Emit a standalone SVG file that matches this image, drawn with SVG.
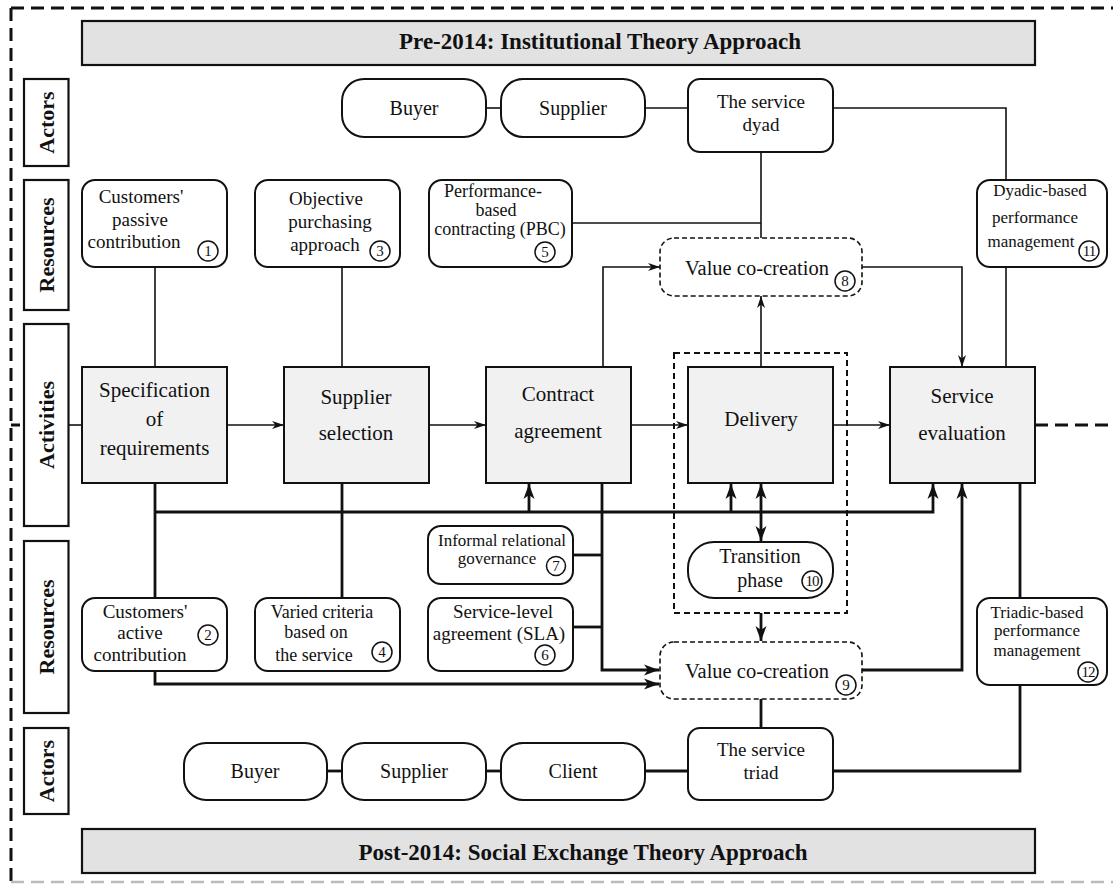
<svg xmlns="http://www.w3.org/2000/svg" width="1113" height="885" viewBox="0 0 1113 885">
<style>
text{font-family:"Liberation Serif","Times New Roman",serif;fill:#111}
.hdr{fill:#e2e2e2;stroke:#111;stroke-width:2.2}
.hdrt{font-size:23px;font-weight:bold}
.side{fill:#fff;stroke:#111;stroke-width:2.2}
.sidet{font-size:22px;font-weight:bold}
.act{fill:#f1f1f1;stroke:#111;stroke-width:2}
.actt{font-size:21px;text-anchor:middle}
.res{fill:#fff;stroke:#111;stroke-width:2}
.rest{font-size:19px;text-anchor:middle}
.rest18{font-size:18px;text-anchor:middle}
.rest2{font-size:17px;text-anchor:middle}
.actor{fill:#fff;stroke:#111;stroke-width:2}
.actort{font-size:20px;text-anchor:middle}
.vcc{fill:#fff;stroke:#111;stroke-width:1.6;stroke-dasharray:5 3}
.vcct{font-size:20.5px;text-anchor:middle}
.num{fill:none;stroke:#111;stroke-width:1.5}
.numt{font-size:15px;text-anchor:middle}
.thin{fill:none;stroke:#111;stroke-width:1.6}
.thick{fill:none;stroke:#111;stroke-width:2.8}
.border{fill:none;stroke:#111;stroke-width:3;stroke-dasharray:13 7}
</style>
<defs>
<marker id="ah" markerUnits="userSpaceOnUse" markerWidth="13" markerHeight="9" refX="12" refY="4.5" orient="auto">
<path d="M0,0.5 L12,4.5 L0,8.5 L3.5,4.5 z" fill="#111"/>
</marker>
<marker id="ahb" markerUnits="userSpaceOnUse" markerWidth="16" markerHeight="12" refX="15" refY="6" orient="auto-start-reverse">
<path d="M0,0.5 L15,6 L0,11.5 L4,6 z" fill="#111"/>
</marker>
</defs>
<rect width="1113" height="885" fill="#fff"/>

<g id="frame">
<path class="border" d="M11,8 H1113 M11,8 V885"/>
<path d="M11,425 H20" stroke="#111" stroke-width="3" fill="none"/>
<path d="M11,882 H1113" stroke="#bbb" stroke-width="2.5" stroke-dasharray="13 7" fill="none"/>
<path d="M1035,425 H1113" stroke="#111" stroke-width="3" stroke-dasharray="13 7" fill="none"/>
</g>

<g id="header-top"><rect class="hdr" x="82" y="21" width="953" height="44"/><text class="hdrt" x="600" y="49" text-anchor="middle">Pre-2014: Institutional Theory Approach</text></g>
<g id="header-bottom"><rect class="hdr" x="82" y="829" width="953" height="44"/><text class="hdrt" x="583" y="860" text-anchor="middle">Post-2014: Social Exchange Theory Approach</text></g>

<g id="lane-actors-top"><rect class="side" x="24" y="79" width="44.5" height="87"/><text class="sidet" text-anchor="middle" transform="translate(54,122.5) rotate(-90)">Actors</text></g>
<g id="lane-resources-top"><rect class="side" x="24" y="180" width="44.5" height="130"/><text class="sidet" text-anchor="middle" transform="translate(54,245) rotate(-90)">Resources</text></g>
<g id="lane-activities"><rect class="side" x="24" y="324" width="44.5" height="202"/><text class="sidet" text-anchor="middle" transform="translate(54,425) rotate(-90)">Activities</text></g>
<g id="lane-resources-bottom"><rect class="side" x="24" y="541" width="44.5" height="172"/><text class="sidet" text-anchor="middle" transform="translate(54,627) rotate(-90)">Resources</text></g>
<g id="lane-actors-bottom"><rect class="side" x="24" y="728" width="44.5" height="86"/><text class="sidet" text-anchor="middle" transform="translate(54,771) rotate(-90)">Actors</text></g>

<g id="connectors">
<path class="thin" d="M155,267 V367"/>
<path class="thin" d="M342,267 V367"/>
<path class="thin" d="M486,108 H501"/>
<path class="thin" d="M645,108 H688"/>
<path class="thin" d="M833,108 H1006 V180"/>
<path class="thin" d="M761,152 V238"/>
<path class="thin" d="M572,223 H761"/>
<path class="thin" d="M603,367 V267 H660" marker-end="url(#ah)"/>
<path class="thin" d="M761,367 V296" marker-end="url(#ah)"/>
<path class="thin" d="M862,267 H962 V367" marker-end="url(#ah)"/>
<path class="thin" d="M1006,267 V367"/>
<path class="thin" d="M68,425 H82"/>
<path class="thin" d="M227,425 H284" marker-end="url(#ah)"/>
<path class="thin" d="M429,425 H486" marker-end="url(#ah)"/>
<path class="thin" d="M631,425 H688" marker-end="url(#ah)"/>
<path class="thin" d="M833,425 H890" marker-end="url(#ah)"/>

<path class="thick" d="M155,483 V598"/>
<path class="thick" d="M342,483 V598"/>
<path class="thick" d="M155,512 H933 V484" marker-end="url(#ahb)"/>
<path class="thick" d="M529,512 V484" marker-end="url(#ahb)"/>
<path class="thick" d="M731,512 V484" marker-end="url(#ahb)"/>
<path class="thick" d="M761,484 V541" marker-start="url(#ahb)" marker-end="url(#ahb)"/>
<path class="thick" d="M602,483 V670 H659" marker-end="url(#ahb)"/>
<path class="thick" d="M573,555 H602"/>
<path class="thick" d="M573,627 H602"/>
<path class="thick" d="M155,671 V684 H659" marker-end="url(#ahb)"/>
<path class="thick" d="M761,613 V641" marker-end="url(#ahb)"/>
<path class="thick" d="M862,670 H962 V484" marker-end="url(#ahb)"/>
<path class="thick" d="M761,699 V728"/>
<path class="thick" d="M1020,483 V598"/>
<path class="thick" d="M1020,685 V771 H833"/>
<path class="thick" d="M327,771 H342"/>
<path class="thick" d="M486,771 H501"/>
<path class="thick" d="M645,771 H688"/>
</g>

<g id="buyer-top"><rect class="actor" x="342" y="79" width="144" height="58" rx="22"/><text class="actort" x="414" y="115">Buyer</text></g>
<g id="supplier-top"><rect class="actor" x="501" y="79" width="144" height="58" rx="22"/><text class="actort" x="573" y="115">Supplier</text></g>
<g id="dyad"><rect class="actor" x="688" y="79" width="145" height="73" rx="12"/><text class="rest" x="761" y="108">The service</text><text class="rest" x="761" y="131">dyad</text></g>

<g id="r1"><rect class="res" x="82" y="180" width="145" height="87" rx="13"/><text class="rest" x="141" y="203">Customers'</text><text class="rest" x="140" y="226">passive</text><text class="rest" x="134" y="248">contribution</text><circle class="num" cx="208" cy="251" r="10"/><text class="numt" x="208" y="256">1</text></g>
<g id="r3"><rect class="res" x="255" y="180" width="145" height="87" rx="13"/><text class="rest" x="326" y="205">Objective</text><text class="rest" x="330" y="228">purchasing</text><text class="rest" x="325" y="251">approach</text><circle class="num" cx="380" cy="251" r="10"/><text class="numt" x="380" y="256">3</text></g>
<g id="r5"><rect class="res" x="429" y="180" width="143" height="87" rx="13"/><text class="rest18" x="493" y="197">Performance-</text><text class="rest18" x="496" y="216">based</text><text class="rest18" x="500" y="235">contracting (PBC)</text><circle class="num" cx="545" cy="252" r="10"/><text class="numt" x="545" y="257">5</text></g>
<g id="r11"><rect class="res" x="977" y="180" width="130" height="87" rx="13"/><text class="rest2" x="1040" y="196">Dyadic-based</text><text class="rest2" x="1035" y="223">performance</text><text class="rest2" x="1031" y="247">management</text><circle class="num" cx="1089" cy="251" r="10"/><text class="numt" x="1089" y="256" letter-spacing="-1">11</text></g>

<g id="vcc8"><rect class="vcc" x="660" y="238" width="202" height="58" rx="14"/><text class="vcct" x="757" y="275">Value co-creation</text><circle class="num" cx="845" cy="281" r="10"/><text class="numt" x="845" y="286">8</text></g>

<g id="spec"><rect class="act" x="82" y="367" width="145" height="116"/><text class="actt" x="154.5" y="397">Specification</text><text class="actt" x="154.5" y="426">of</text><text class="actt" x="154.5" y="455">requirements</text></g>
<g id="supsel"><rect class="act" x="284" y="367" width="145" height="116"/><text class="actt" x="356" y="404">Supplier</text><text class="actt" x="356" y="440">selection</text></g>
<g id="contract"><rect class="act" x="486" y="367" width="145" height="116"/><text class="actt" x="558" y="401">Contract</text><text class="actt" x="558" y="438">agreement</text></g>
<g id="delivery-frame"><rect x="674" y="353" width="173" height="260" fill="none" stroke="#111" stroke-width="2" stroke-dasharray="6 4"/></g>
<g id="delivery"><rect class="act" x="688" y="367" width="145" height="116"/><text class="actt" x="761" y="426">Delivery</text></g>
<g id="evaluation"><rect class="act" x="890" y="367" width="145" height="116"/><text class="actt" x="962" y="403">Service</text><text class="actt" x="962" y="440">evaluation</text></g>

<g id="r7"><rect class="res" x="428" y="526" width="145" height="58" rx="13"/><text class="rest2" x="502" y="546">Informal relational</text><text class="rest2" x="497" y="564">governance</text><circle class="num" cx="556" cy="566" r="9.5"/><text class="numt" x="556" y="571">7</text></g>
<g id="r6"><rect class="res" x="428" y="598" width="145" height="73" rx="13"/><text class="rest" x="503" y="618">Service-level</text><text class="rest" x="499" y="640">agreement (SLA)</text><circle class="num" cx="545" cy="655" r="10"/><text class="numt" x="545" y="660">6</text></g>
<g id="r2"><rect class="res" x="82" y="598" width="145" height="73" rx="13"/><text class="rest" x="145" y="618">Customers'</text><text class="rest" x="140" y="639">active</text><text class="rest" x="140" y="661">contribution</text><circle class="num" cx="208" cy="635" r="10"/><text class="numt" x="208" y="640">2</text></g>
<g id="r4"><rect class="res" x="255" y="598" width="145" height="73" rx="13"/><text class="rest18" x="322" y="618">Varied criteria</text><text class="rest18" x="316" y="638">based on</text><text class="rest18" x="314" y="661">the service</text><circle class="num" cx="382" cy="652" r="10"/><text class="numt" x="382" y="657">4</text></g>
<g id="r10"><rect class="res" x="688" y="542" width="145" height="56" rx="26"/><text class="actt" x="760" y="563" style="font-size:20px">Transition</text><text class="actt" x="760" y="587" style="font-size:20px">phase</text><circle class="num" cx="812" cy="581" r="10"/><text class="numt" x="812" y="586" letter-spacing="-1">10</text></g>
<g id="r12"><rect class="res" x="977" y="598" width="130" height="87" rx="13"/><text class="rest2" x="1037" y="618">Triadic-based</text><text class="rest2" x="1037" y="636">performance</text><text class="rest2" x="1037" y="656">management</text><circle class="num" cx="1088" cy="672" r="10"/><text class="numt" x="1088" y="677" letter-spacing="-1">12</text></g>

<g id="vcc9"><rect class="vcc" x="660" y="642" width="202" height="57" rx="14"/><text class="vcct" x="757" y="678">Value co-creation</text><circle class="num" cx="846" cy="685" r="10"/><text class="numt" x="846" y="690">9</text></g>

<g id="buyer-bottom"><rect class="actor" x="184" y="743" width="143" height="57" rx="22"/><text class="actort" x="255" y="778">Buyer</text></g>
<g id="supplier-bottom"><rect class="actor" x="342" y="743" width="144" height="57" rx="22"/><text class="actort" x="414" y="778">Supplier</text></g>
<g id="client"><rect class="actor" x="501" y="743" width="144" height="57" rx="22"/><text class="actort" x="573" y="778">Client</text></g>
<g id="triad"><rect class="actor" x="688" y="728" width="145" height="72" rx="12"/><text class="rest" x="761" y="756">The service</text><text class="rest" x="761" y="779">triad</text></g>
</svg>
